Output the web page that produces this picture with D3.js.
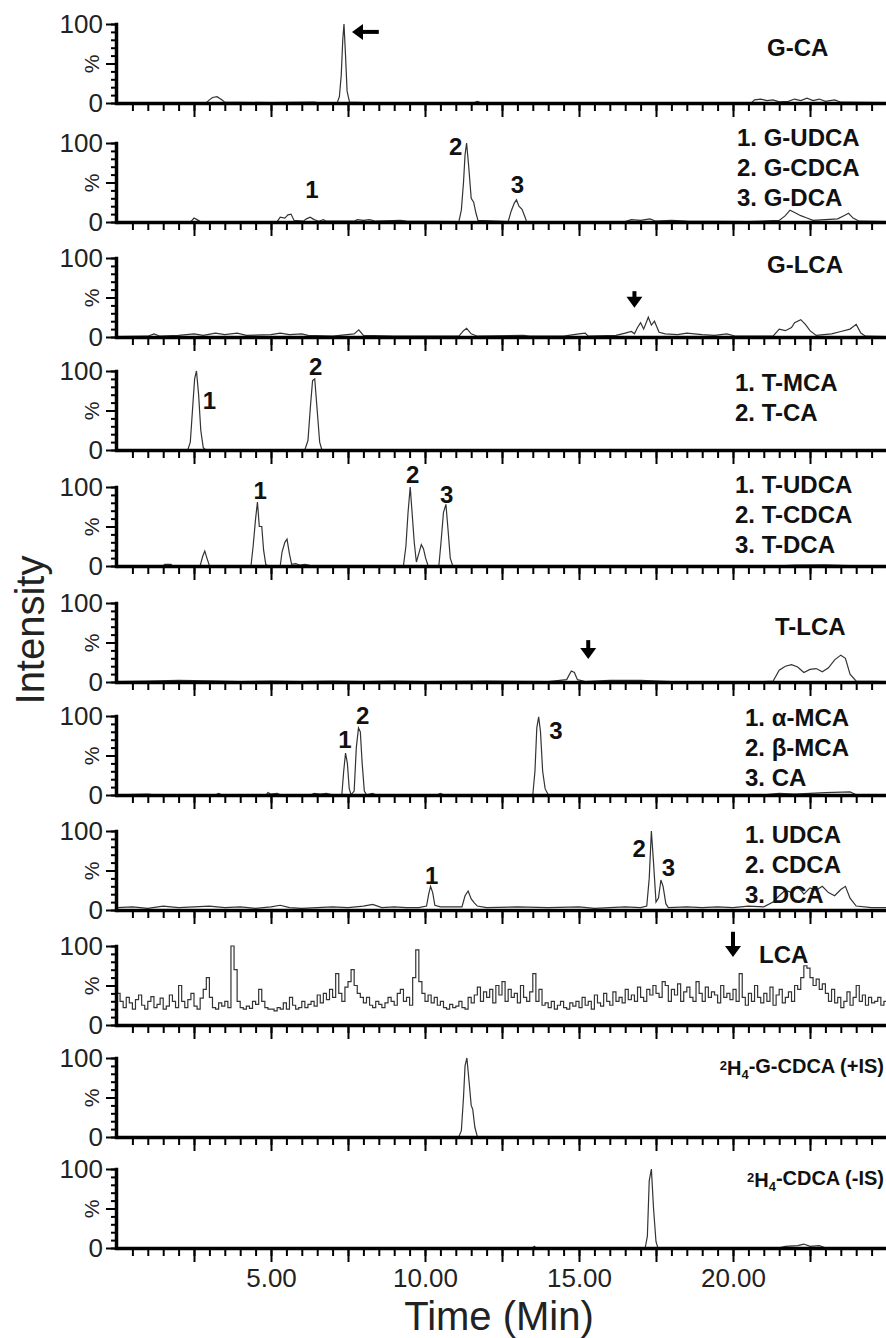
<!DOCTYPE html>
<html>
<head>
<meta charset="utf-8">
<script src="https://cdn.jsdelivr.net/npm/d3@7"></script>
<style>
  body { margin: 0; background: #fff; }
  text { font-family: "Liberation Sans", Arial, sans-serif; }
</style>
</head>
<body>
<div id="chart"></div>
<script>
// ---- traces: [time (min), relative intensity (%)] ----
const gcaTrace = [[0,0.5],[2.9,0.5],[3.0,4],[3.1,7],[3.25,8],[3.4,4],[3.5,1],[5,0.5],[6.4,1],[6.5,0.5],[7.15,0.5],[7.22,8],[7.28,35],[7.33,80],[7.37,100],[7.42,60],[7.47,15],[7.55,1],[8,0.5],[11.6,0.5],[11.7,2],[11.8,0.5],[20.6,0.5],[20.7,4],[20.9,5],[21.1,3],[21.3,4],[21.5,1.5],[21.8,2],[22.0,5],[22.2,3],[22.4,6],[22.6,3],[22.8,5],[23.0,2],[23.3,4],[23.5,1],[25,0.5]];
const gudcaTrace = [[0,0.5],[2.4,0.5],[2.5,5],[2.6,3],[2.7,0.5],[5.2,0.5],[5.3,6],[5.45,5],[5.55,9],[5.65,10],[5.75,2],[6.05,1],[6.15,4],[6.27,6],[6.4,3],[6.55,1],[6.7,3],[6.8,1],[7.7,1],[7.8,3],[8.0,2],[8.2,3],[8.4,1],[9.2,2],[9.4,1],[11.1,0.5],[11.18,15],[11.25,50],[11.3,85],[11.35,100],[11.42,70],[11.5,30],[11.58,25],[11.65,12],[11.72,2],[12.7,0.5],[12.8,14],[12.9,24],[12.97,28],[13.05,20],[13.15,16],[13.25,6],[13.3,0.5],[16.5,0.5],[16.7,3],[17,2],[17.3,4],[17.5,1],[18,2],[18.5,1],[20.5,0.5],[21.5,2],[21.7,8],[21.85,15],[22.0,12],[22.2,8],[22.4,5],[22.6,2],[23.0,3],[23.4,4],[23.6,8],[23.75,11],[23.9,5],[24.1,1],[25,0.5]];
const glcaTrace = [[0,0.5],[1.0,1],[1.2,4],[1.4,1],[2.0,2],[2.5,4],[2.8,2],[3.2,5],[3.5,3],[3.9,5],[4.2,2],[5.0,3],[5.3,5],[5.6,3],[6.0,4],[6.2,2],[7.0,1],[7.7,4],[7.85,9],[8.0,2],[9,1],[10,1],[11.1,1],[11.25,8],[11.35,11],[11.5,4],[11.7,1],[13.2,2],[13.4,1],[14.5,1],[15.0,4],[15.2,5],[15.3,1],[16.2,2],[16.5,5],[16.7,7],[16.8,4],[16.9,12],[17.0,18],[17.1,10],[17.25,25],[17.35,15],[17.45,20],[17.6,6],[17.8,4],[18.2,3],[18.5,5],[19,3],[19.4,2],[19.8,4],[20.1,1],[21.3,1],[21.5,10],[21.7,8],[21.9,12],[22.0,18],[22.2,22],[22.35,16],[22.5,8],[22.7,2],[23.2,4],[23.5,7],[23.8,10],[24.0,16],[24.15,5],[24.3,1],[25,0.5]];
const tmcaTrace = [[0,0.3],[2.3,0.3],[2.38,10],[2.45,50],[2.52,90],[2.58,100],[2.65,70],[2.72,25],[2.8,3],[2.88,0.3],[6.1,0.3],[6.2,12],[6.28,55],[6.35,88],[6.42,90],[6.5,50],[6.58,10],[6.65,0.3],[25,0.3]];
const tudcaTrace = [[0,0.3],[1.5,0.3],[1.55,2],[1.75,2],[1.8,0.3],[2.7,0.3],[2.78,12],[2.85,19],[2.92,10],[3.0,0.3],[4.35,0.3],[4.42,25],[4.5,60],[4.56,81],[4.62,50],[4.7,50],[4.76,20],[4.83,2],[4.9,0.3],[5.3,0.3],[5.36,18],[5.45,30],[5.52,34],[5.6,15],[5.67,2],[5.8,3],[5.95,1],[6.1,2],[6.25,1],[6.3,0.3],[9.3,0.3],[9.38,25],[9.45,68],[9.52,100],[9.58,68],[9.65,30],[9.72,5],[9.8,16],[9.88,27],[9.95,22],[10.02,10],[10.1,0.3],[10.45,0.3],[10.52,30],[10.6,68],[10.68,78],[10.75,45],[10.82,10],[10.9,0.3],[21.5,0.3],[22.0,1],[23,1.5],[24,0.3],[25,0.3]];
const tlcaTrace = [[0,0.5],[1,1],[2,2],[3,1.5],[4,0.5],[5,1],[6,0.5],[7,1],[8,0.5],[9,1],[10,0.5],[12,1],[14,0.5],[14.6,3],[14.75,14],[14.85,12],[14.95,3],[15.2,0.5],[16,2],[17,2],[18,0.5],[21,0.5],[21.3,1],[21.5,15],[21.7,20],[21.9,22],[22.1,19],[22.3,12],[22.5,16],[22.7,17],[22.9,13],[23.1,18],[23.3,28],[23.5,34],[23.65,30],[23.8,10],[24,1],[25,0.5]];
const mcaTrace = [[0,0.3],[1.0,1],[1.2,0.3],[3.2,0.3],[3.3,2],[3.4,0.3],[4.85,0.3],[4.9,3],[5.0,1],[5.2,2],[5.3,0.3],[6.3,0.3],[6.4,2],[6.6,1],[6.8,2],[7.0,0.3],[7.3,0.3],[7.36,30],[7.42,53],[7.48,40],[7.54,8],[7.6,0.3],[7.7,5],[7.77,60],[7.84,85],[7.9,80],[7.96,40],[8.03,5],[8.1,0.3],[8.3,2],[8.4,0.3],[10.4,0.3],[10.5,2],[10.6,0.3],[13.5,0.3],[13.57,30],[13.63,85],[13.69,99],[13.75,80],[13.82,30],[13.9,8],[14.0,0.3],[21,0.3],[21.5,2],[22,1],[23,3],[23.8,4],[24,0.3],[25,0.3]];
const udcaTrace = [[0,3],[0.5,4],[1,2],[1.5,5],[2,3],[2.5,4],[3,5],[3.5,3],[4,4],[4.5,2],[5,4],[5.3,6],[5.6,3],[6,2],[6.5,3],[7,4],[7.5,3],[8,5],[8.3,7],[8.6,3],[9,4],[9.4,3],[9.8,3],[10.05,5],[10.12,20],[10.18,30],[10.25,22],[10.32,6],[10.5,4],[10.9,4],[11.2,4],[11.3,18],[11.4,24],[11.5,14],[11.6,9],[11.7,5],[12,3],[13,4],[14,3],[15,4],[15.5,2],[16,3],[16.5,4],[17,3],[17.2,5],[17.28,40],[17.35,100],[17.42,60],[17.5,10],[17.58,15],[17.66,38],[17.73,30],[17.82,8],[17.9,3],[18.5,4],[19,3],[19.5,4],[20,3],[20.5,5],[21,4],[21.3,10],[21.5,18],[21.7,25],[21.9,22],[22.1,30],[22.3,20],[22.5,28],[22.7,25],[22.9,30],[23.1,22],[23.3,18],[23.5,26],[23.65,30],[23.8,15],[24,5],[24.5,3],[25,3]];
// LCA trace is sampled every 0.1 min starting at 0
const lcaStep = 0.1;
const lcaValues = [
  40,30,22,35,28,20,32,38,25,20,
  30,36,22,26,34,20,24,38,30,22,
  50,30,22,32,40,24,20,34,45,60,
  35,22,20,28,24,30,22,100,70,30,
  22,20,24,21,30,26,45,30,22,20,
  20,18,22,20,28,20,35,25,20,22,
  30,22,26,30,24,38,28,40,32,45,
  35,65,40,30,48,55,70,50,40,35,
  28,35,25,22,30,26,22,28,35,30,
  25,40,45,30,35,25,60,95,55,40,
  30,38,28,35,25,30,22,20,26,22,
  24,30,22,20,35,28,38,48,30,42,
  35,45,28,50,38,55,30,45,35,40,
  28,50,35,30,42,65,30,45,25,28,
  22,30,20,25,30,22,20,28,24,30,
  22,35,25,30,20,38,28,24,40,30,
  25,42,30,35,28,45,32,38,30,48,
  35,30,45,38,50,40,35,55,50,30,
  45,38,52,30,42,48,35,30,55,40,
  30,48,35,42,38,28,50,35,40,32,
  45,30,65,35,25,40,30,50,35,28,
  40,30,48,25,38,45,28,35,42,30,
  50,45,60,75,72,60,50,58,45,52,
  40,30,45,28,35,22,30,42,25,35,
  50,30,38,25,35,28,30,35,25,30,
  28];
const gcdcaIsTrace = [[0,0.3],[11.1,0.3],[11.18,8],[11.25,50],[11.3,90],[11.36,100],[11.42,75],[11.5,40],[11.55,35],[11.62,12],[11.7,0.3],[25,0.3]];
const cdcaIsTrace = [[0,0.3],[13.5,0.3],[13.55,2],[13.6,0.3],[17.15,0.3],[17.22,15],[17.28,85],[17.35,100],[17.42,50],[17.5,8],[17.56,0.3],[21.5,0.3],[21.7,2],[22.1,3],[22.3,5],[22.5,2],[22.8,3],[23,0.3],[25,0.3]];

// ---- compound names per panel ----
const panelNames = [
  ["G-CA"],
  ["1. G-UDCA", "2. G-CDCA", "3. G-DCA"],
  ["G-LCA"],
  ["1. T-MCA", "2. T-CA"],
  ["1. T-UDCA", "2. T-CDCA", "3. T-DCA"],
  ["T-LCA"],
  ["1. \u03b1-MCA", "2. \u03b2-MCA", "3. CA"],
  ["1. UDCA", "2. CDCA", "3. DCA"],
  ["LCA"],
  ["IS+"],
  ["IS-"]
];

// ---- peak numbers: [time, height %, label] ----
const gudcaPeaks = [[6.33, 41, "1"], [11.0, 95, "2"], [13.0, 47, "3"]];
const tmcaPeaks = [[3.0, 63, "1"], [6.45, 106, "2"]];
const tudcaPeaks = [[4.65, 95, "1"], [9.6, 116, "2"], [10.7, 91, "3"]];
const mcaPeaks = [[7.4, 70, "1"], [7.98, 101, "2"], [14.25, 82, "3"]];
const udcaPeaks = [[10.22, 44, "1"], [16.95, 78, "2"], [17.9, 54, "3"]];

// ---- arrows: [time, from %, to %] (vertical) or horizontal for G-CA ----
const gcaArrow = [8.5, 7.63, 90];
const downArrows = { 2: [16.8, 58, 37], 5: [15.3, 53, 29], 8: [20.0, 118, 86] };

const tickLabels = [5, 10, 15, 20];

// ---- layout ----
const width = 886, height = 1338;
const panelBase = [103, 222, 337, 450, 566, 682, 795, 910, 1025, 1137, 1248];
const panelH = 79;
const nameLayout = [[767, 48], [737, 138], [767, 265], [735, 383], [735, 485], [775, 627], [745, 718], [745, 835], [759, 955], [884, 1073], [884, 1185]];
const lineGap = 30;

const lcaTrace = lcaValues.map((v, i) => [i * lcaStep, v]);
const traces = [gcaTrace, gudcaTrace, glcaTrace, tmcaTrace, tudcaTrace, tlcaTrace, mcaTrace, udcaTrace, lcaTrace, gcdcaIsTrace, cdcaIsTrace];
const peakSets = { 1: gudcaPeaks, 3: tmcaPeaks, 4: tudcaPeaks, 6: mcaPeaks, 7: udcaPeaks };

const svg = d3.select("#chart").append("svg")
  .attr("width", width)
  .attr("height", height);

svg.append("defs").append("clipPath").attr("id", "plotclip")
  .append("rect").attr("x", 114).attr("y", 0).attr("width", width - 114).attr("height", height);

const x = d3.scaleLinear().domain([0, 25]).range([117, 887]);

traces.forEach((trace, i) => {
  const base = panelBase[i];
  const y = d3.scaleLinear().domain([0, 100]).range([base, base - panelH]);
  const g = svg.append("g");

  // trace (LCA is drawn stepwise, like the raw scan data)
  const line = d3.line().x(d => x(d[0])).y(d => y(d[1]))
    .curve(trace === lcaTrace ? d3.curveStepAfter : d3.curveLinear);
  g.append("path")
    .datum(trace)
    .attr("clip-path", "url(#plotclip)")
    .attr("fill", "none")
    .attr("stroke", "#333")
    .attr("stroke-width", 1.2)
    .attr("d", line);

  // x axis: minor + major ticks
  const minor = g.append("g").attr("transform", `translate(0,${base})`)
    .call(d3.axisBottom(x).tickValues(d3.range(0.5, 25, 0.5)).tickSize(8).tickFormat(""));
  minor.select(".domain").remove();
  const major = g.append("g").attr("transform", `translate(0,${base})`)
    .call(d3.axisBottom(x).tickValues(d3.range(2.5, 25, 2.5)).tickSize(14).tickSizeOuter(0).tickFormat(""));
  major.select(".domain").attr("stroke-width", 3.5);
  g.selectAll(".tick line").attr("stroke", "#000").attr("stroke-width", 2);

  // y axis
  const yMinor = g.append("g").attr("transform", "translate(116,0)")
    .call(d3.axisLeft(y).tickValues(d3.range(0, 101, 10)).tickSize(5).tickFormat(""));
  yMinor.select(".domain").remove();
  const yMajor = g.append("g").attr("transform", "translate(116,0)")
    .call(d3.axisLeft(y).tickValues([0, 50, 100]).tickSize(10).tickSizeOuter(0)
      .tickFormat(d => d === 50 ? "%" : d));
  yMajor.select(".domain").attr("stroke-width", 3.5).attr("stroke-linecap", "square");
  g.selectAll(".tick line").attr("stroke", "#000").attr("stroke-width", 2);
  yMajor.selectAll("text")
    .attr("fill", "#222")
    .attr("font-size", d => d === 50 ? 21 : 26)
    .attr("x", -13)
    .attr("transform", d => d === 50 ? "rotate(-90,-24,0)" : null)
    .filter(d => d === 50)
    .attr("x", -24).attr("text-anchor", "middle");

  // compound names
  const [nx, ny] = nameLayout[i];
  const isLabel = panelNames[i][0].startsWith("IS");
  const names = g.append("text")
    .attr("font-size", isLabel ? 20 : 24)
    .attr("font-weight", "bold")
    .attr("text-anchor", isLabel ? "end" : "start")
    .attr("fill", "#111");
  panelNames[i].forEach((n, k) => {
    const t = names.append("tspan").attr("x", nx).attr("y", ny + k * lineGap).attr("dy", "0.35em");
    if (isLabel) {
      t.append("tspan").attr("font-size", 13).attr("dy", "-0.25em").text("2");
      t.append("tspan").attr("dy", "0.25em").text("H");
      t.append("tspan").attr("font-size", 13).attr("dy", "0.3em").text("4");
      t.append("tspan").attr("dy", "-0.3em").text(n === "IS+" ? "-G-CDCA (+IS)" : "-CDCA (-IS)");
    } else {
      t.text(n);
    }
  });

  // peak numbers
  (peakSets[i] || []).forEach(p => {
    g.append("text")
      .attr("x", x(p[0])).attr("y", y(p[1]))
      .attr("dy", "0.35em")
      .attr("text-anchor", "middle")
      .attr("font-family", "'Liberation Serif', 'Times New Roman', serif")
      .attr("font-weight", "bold")
      .attr("font-size", 24)
      .attr("fill", "#111")
      .text(p[2]);
  });

  // down arrows
  if (downArrows[i]) {
    const [t, v0, v1] = downArrows[i];
    const ax = x(t), y0 = y(v0), y1 = y(v1);
    g.append("line").attr("x1", ax).attr("x2", ax).attr("y1", y0).attr("y2", y1 - 9)
      .attr("stroke", "#000").attr("stroke-width", 4);
    g.append("path").attr("d", `M${ax - 8},${y1 - 11}L${ax + 8},${y1 - 11}L${ax},${y1}Z`).attr("fill", "#000");
  }
  if (i === 0) {
    const [t0, t1, v] = gcaArrow;
    const ax0 = x(t1), ax1 = x(t0), ay = y(v);
    g.append("line").attr("x1", ax0 + 9).attr("x2", ax1).attr("y1", ay).attr("y2", ay)
      .attr("stroke", "#000").attr("stroke-width", 4);
    g.append("path").attr("d", `M${ax0 + 11},${ay - 8}L${ax0 + 11},${ay + 8}L${ax0},${ay}Z`).attr("fill", "#000");
  }
});

// bottom tick labels
const last = panelBase[panelBase.length - 1];
svg.append("g").attr("transform", `translate(0,${last + 18})`)
  .call(d3.axisBottom(x).tickValues(tickLabels).tickSize(0).tickFormat(d3.format(".2f")))
  .call(g => g.select(".domain").remove())
  .selectAll("text")
  .attr("font-size", 26)
  .attr("fill", "#222");

// axis titles
svg.append("text")
  .attr("x", 499).attr("y", 1316).attr("dy", "0.35em")
  .attr("text-anchor", "middle")
  .attr("font-size", 40)
  .attr("fill", "#222")
  .text("Time (Min)");

svg.append("text")
  .attr("transform", "translate(30,630) rotate(-90)")
  .attr("dy", "0.35em")
  .attr("text-anchor", "middle")
  .attr("font-size", 40)
  .attr("fill", "#222")
  .text("Intensity");
</script>
</body>
</html>
